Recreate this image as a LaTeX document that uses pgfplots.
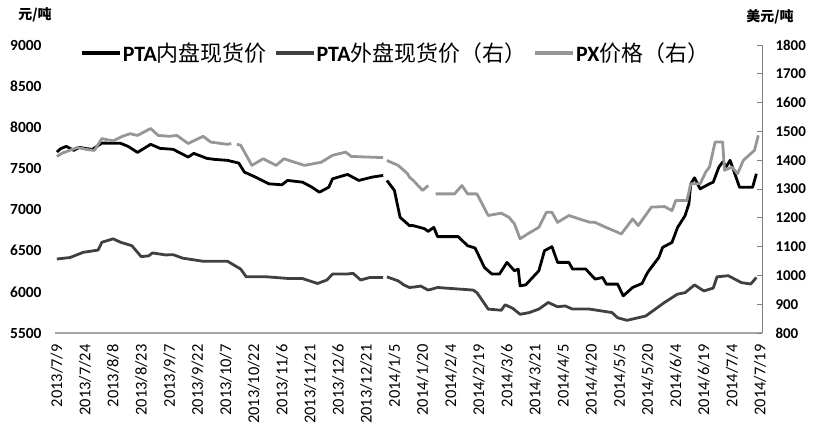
\documentclass[border=0pt]{standalone}
\usepackage{fontspec}
\setmainfont{Carlito}
\newfontfamily\cjk{Noto Sans CJK SC}
\usepackage{pgfplots}
\usepackage{pgfplotstable}
\pgfplotsset{compat=1.18}
\definecolor{dgray}{HTML}{404040}
\definecolor{lgray}{HTML}{969696}
\definecolor{axgray}{HTML}{A6A6A6}

\pgfplotstableread{
d v
0 7699
2 7740
5 7768
9 7720
12 7756
16 7740
19 7732
24 7808
34 7805
38 7768
43 7695
50 7793
55 7744
62 7732
70 7638
73 7683
80 7622
84 7610
91 7598
97 7565
100 7455
106 7394
113 7313
120 7301
123 7354
131 7333
136 7272
140 7211
145 7272
147 7374
155 7427
161 7354
168 7394
174 7415
175 nan
176 7354
180 7232
183 6906
188 6805
190 6805
196 6768
198 6735
201 6784
203 6671
214 6671
219 6561
223 6533
228 6296
232 6216
236 6216
240 6358
244 6256
246 6277
247 6073
250 6085
257 6256
260 6500
264 6549
267 6358
273 6358
275 6277
282 6277
287 6155
291 6175
293 6094
299 6094
302 5951
307 6053
312 6102
315 6236
321 6419
323 6540
328 6601
331 6784
335 6927
337 7069
338 7313
340 7386
343 7252
348 7313
350 7333
353 7516
355 7577
357 7524
359 7598
364 7272
371 7272
373 7435
}\ptadom

\pgfplotstableread{
d v
0 1057
7 1062
14 1080
22 1088
24 1115
30 1127
34 1115
40 1103
45 1065
49 1068
51 1078
58 1071
62 1072
67 1060
78 1049
91 1049
98 1022
101 995
112 995
124 989
131 989
139 972
144 984
147 1005
155 1005
158 1007
162 984
167 993
174 993
175 nan
176 995
182 981
185 967
188 958
191 960
194 963
198 949
203 958
222 949
224 940
230 883
237 879
239 898
243 886
247 865
252 871
257 883
262 906
267 891
271 894
275 883
284 883
296 871
299 853
304 844
314 859
324 906
331 935
335 940
340 967
345 946
350 956
352 995
358 999
365 975
370 970
373 993
}\ptaext

\pgfplotstableread{
d v
0 1413
3 1425
11 1444
16 1437
20 1434
24 1475
30 1467
35 1483
39 1492
43 1486
50 1510
54 1486
60 1483
64 1486
70 1458
78 1483
82 1463
91 1455
93 1458
94 nan
96 1455
98 1452
104 1382
110 1405
117 1382
121 1405
132 1382
141 1393
147 1417
154 1428
157 1413
174 1409
175 nan
176 1399
182 1382
187 1353
188 1341
190 1330
195 1295
198 1312
199 nan
202 1283
212 1283
216 1312
219 1283
224 1283
230 1208
237 1216
241 1202
244 1179
247 1127
251 1144
257 1167
261 1219
264 1219
267 1184
273 1208
280 1193
284 1185
287 1184
292 1169
301 1144
307 1196
310 1173
317 1237
324 1239
328 1225
330 1260
336 1260
338 1318
343 1318
346 1359
348 1376
351 1463
355 1463
356 1365
360 1376
363 1353
366 1399
370 1423
372 1434
374 1486
}\px

\pgfplotsset{
  base/.style={
    at={(55bp,105bp)}, anchor=south west,
    scale only axis, width=707bp, height=288bp,
    xmin=-1, xmax=376,
    unbounded coords=jump,
    /pgf/number format/assume math mode=true,
    /pgf/number format/1000 sep={},
  }
}

\begin{document}
\begin{tikzpicture}
\useasboundingbox (0,0) rectangle (817bp,438bp);
\begin{axis}[base,
  ymin=5500, ymax=9000,
  ytick={5500,6000,...,9000},
  axis x line*=bottom,
  x axis line style={-, draw=axgray, line width=1.5bp},
  axis y line*=left,
  y axis line style={draw=none},
  major tick length=0pt,
  xtick={0,15,...,375},
  xticklabels={2013/7/9,2013/7/24,2013/8/8,2013/8/23,2013/9/7,2013/9/22,2013/10/7,2013/10/22,2013/11/6,2013/11/21,2013/12/6,2013/12/21,2014/1/5,2014/1/20,2014/2/4,2014/2/19,2014/3/6,2014/3/21,2014/4/5,2014/4/20,2014/5/5,2014/5/20,2014/6/4,2014/6/19,2014/7/4,2014/7/19},
  xticklabel style={rotate=90, anchor=east, font=\fontsize{16.5}{16.5}\selectfont},
  xticklabel shift=8bp,
  yticklabel style={font=\bfseries\fontsize{15.5}{15.5}\selectfont},
  yticklabel shift=10bp,
]
\addplot[black, line width=2.8bp, line join=round] table[x=d,y=v]{\ptadom};
\end{axis}
\begin{axis}[base,
  ymin=800, ymax=1800,
  ytick={800,900,...,1800},
  axis x line=none,
  axis y line*=right,
  y axis line style={-, draw=gray, line width=0.8bp},
  major tick length=5bp, tick align=inside,
  tick style={draw=gray, line width=0.8bp},
  yticklabel style={font=\bfseries\fontsize{15}{15}\selectfont},
  yticklabel shift=10bp,
  legend image code/.code={\draw[#1] (0bp,0bp) -- (38bp,0bp);},
  legend image post style={line width=3.2bp},
  legend style={draw=none, fill=none, at={(0.031,0.972)}, anchor=west,
    legend columns=3, font=\fontsize{22}{22}\selectfont,
    nodes={inner sep=1.5bp},
    /tikz/every even column/.append style={column sep=6bp}},
]
\addlegendimage{black}
\addlegendentry{\textbf{PTA}{\cjk 内盘现货价}}
\addplot[dgray, line width=2.8bp, line join=round] table[x=d,y=v]{\ptaext};
\addlegendentry{\textbf{PTA}{\cjk 外盘现货价（右）}}
\addplot[lgray, line width=2.8bp, line join=round] table[x=d,y=v]{\px};
\addlegendentry{\textbf{PX}{\cjk 价格（右）}}
\end{axis}
\node[font=\cjk\bfseries\fontsize{14}{14}\selectfont] at (35bp,423bp) {元/吨};
\node[font=\cjk\bfseries\fontsize{14}{14}\selectfont] at (770bp,421bp) {美元/吨};
\end{tikzpicture}
\end{document}
